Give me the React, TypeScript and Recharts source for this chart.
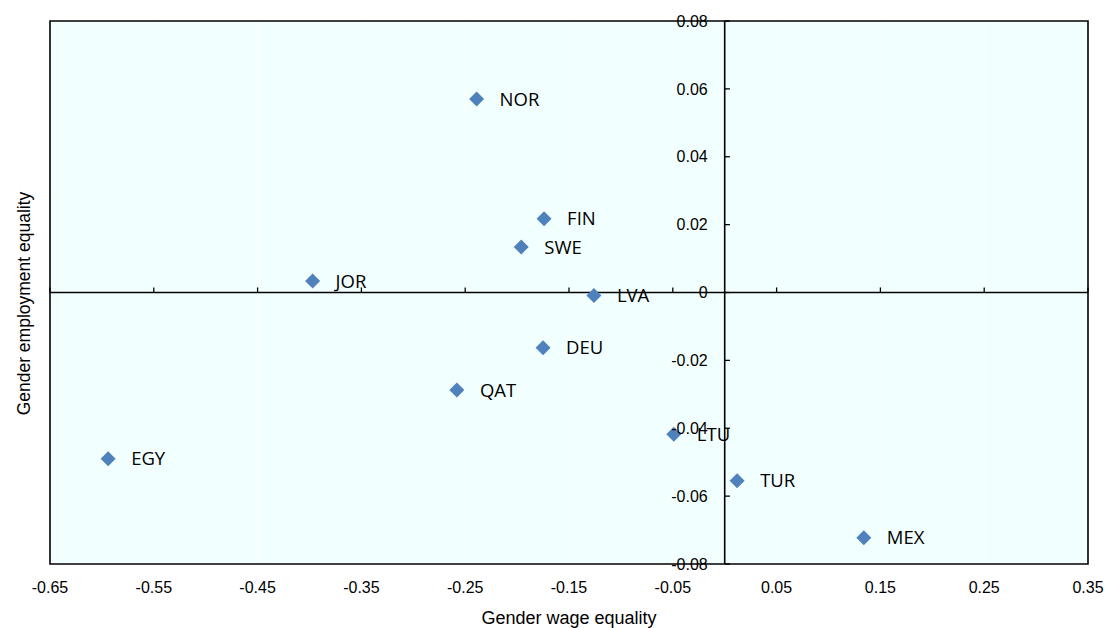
import React from 'react';
import {
  ScatterChart,
  Scatter,
  XAxis,
  YAxis,
  CartesianGrid,
  ReferenceLine,
  ReferenceArea,
} from 'recharts';

// Country codes and their two equality measures
const countries = ['NOR', 'FIN', 'SWE', 'JOR', 'LVA', 'DEU', 'QAT', 'EGY', 'LTU', 'TUR', 'MEX'];
const wageEquality = [-0.239, -0.174, -0.196, -0.397, -0.126, -0.175, -0.258, -0.594, -0.049, 0.012, 0.134];
const employmentEquality = [0.057, 0.0217, 0.0134, 0.0034, -0.0009, -0.0163, -0.0287, -0.049, -0.0418, -0.0555, -0.0723];

// Axis ticks and their printed labels
const xTicks = [-0.65, -0.55, -0.45, -0.35, -0.25, -0.15, -0.05, 0.05, 0.15, 0.25, 0.35];
const xTickLabels = ['-0.65', '-0.55', '-0.45', '-0.35', '-0.25', '-0.15', '-0.05', '0.05', '0.15', '0.25', '0.35'];
const yTicks = [-0.08, -0.06, -0.04, -0.02, 0, 0.02, 0.04, 0.06, 0.08];
const yTickLabels = ['-0.08', '-0.06', '-0.04', '-0.02', '0', '0.02', '0.04', '0.06', '0.08'];

const data = countries.map((name, i) => ({ name, x: wageEquality[i], y: employmentEquality[i] }));

const AXIS_FONT = '"Liberation Sans", Arial, sans-serif';
const LABEL_FONT = '"Open Sans", "Noto Sans", sans-serif';
const MARKER = '#4F81BD';

// Diamond marker with the country code to its right
const DiamondPoint = (props: any) => {
  const { cx, cy, payload } = props;
  const r = 7.5;
  return (
    <g>
      <polygon
        points={`${cx},${cy - r} ${cx + r},${cy} ${cx},${cy + r} ${cx - r},${cy}`}
        fill={MARKER}
      />
      <text x={cx + 23} y={cy + 6.6} fontSize={18.5} fontFamily={LABEL_FONT} fill="#000">
        {payload.name}
      </text>
    </g>
  );
};

const XTitle = (props: any) => {
  const { viewBox } = props;
  return (
    <text
      x={viewBox.x + viewBox.width / 2}
      y={viewBox.y + 60}
      textAnchor="middle"
      fontSize={18}
      fontFamily={AXIS_FONT}
      fill="#000"
    >
      Gender wage equality
    </text>
  );
};

const YTitle = (props: any) => {
  const { viewBox } = props;
  const x = viewBox.x + 30;
  const y = viewBox.y + viewBox.height / 2 + 11;
  return (
    <text
      x={x}
      y={y}
      transform={`rotate(-90, ${x}, ${y})`}
      textAnchor="middle"
      fontSize={17.5}
      fontFamily={AXIS_FONT}
      fill="#000"
    >
      Gender employment equality
    </text>
  );
};

export default function App() {
  return (
    <div style={{ position: 'absolute', left: 0, top: 0, width: 1105, height: 628, background: '#fff' }}>
      <ScatterChart width={1105} height={628} margin={{ top: 21, right: 17, bottom: 0, left: 0 }}>
        <CartesianGrid fill="#F2FFFF" stroke="#FFFFFF" strokeWidth={1} />
        <XAxis
          type="number"
          dataKey="x"
          domain={[-0.65, 0.35]}
          ticks={xTicks}
          allowDataOverflow
          interval={0}
          height={64}
          axisLine={false}
          tickLine={false}
          tickSize={0}
          tickMargin={18}
          tickFormatter={(v: number) => xTickLabels[xTicks.findIndex((t) => Math.abs(t - v) < 1e-9)] ?? String(v)}
          tick={{ fill: '#000', fontSize: 16, fontFamily: AXIS_FONT }}
          label={<XTitle />}
        />
        <YAxis
          type="number"
          dataKey="y"
          domain={[-0.08, 0.08]}
          ticks={yTicks}
          allowDataOverflow
          interval={0}
          width={50}
          axisLine={false}
          tickLine={false}
          tick={false}
          label={<YTitle />}
        />
        <ReferenceArea
          x1={-0.65}
          x2={0.35}
          y1={-0.08}
          y2={0.08}
          fill="none"
          fillOpacity={0}
          stroke="#000"
          strokeWidth={1.6}
        />
        <ReferenceLine x={0} stroke="#000" strokeWidth={1.6} />
        <ReferenceLine y={0} stroke="#000" strokeWidth={1.6} />
        {xTicks.map((t) => (
          <ReferenceLine
            key={`xt${t}`}
            segment={[{ x: t, y: 0 }, { x: t, y: 0.0015 }]}
            stroke="#000"
            strokeWidth={1.3}
          />
        ))}
        {yTicks.map((t, i) => (
          <ReferenceLine
            key={`yt${t}`}
            segment={[{ x: 0, y: t }, { x: 0.005, y: t }]}
            stroke="#000"
            strokeWidth={1.3}
            label={{
              value: yTickLabels[i],
              position: 'left',
              offset: 17,
              fill: '#000',
              fontSize: 16,
              fontFamily: AXIS_FONT,
            }}
          />
        ))}
        <Scatter data={data} shape={<DiamondPoint />} isAnimationActive={false} />
      </ScatterChart>
    </div>
  );
}
